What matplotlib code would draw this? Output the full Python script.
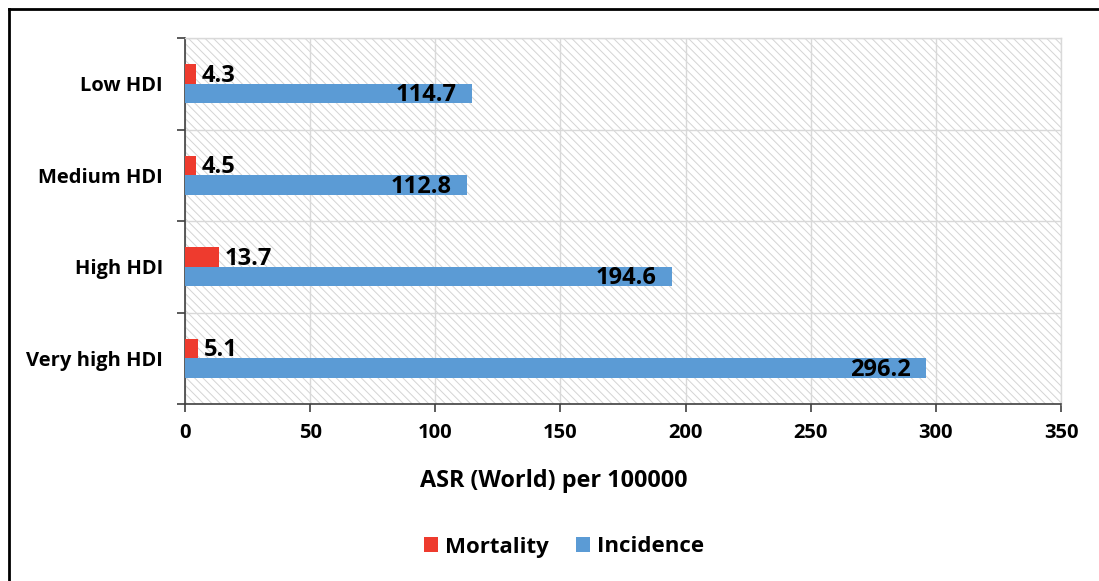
import matplotlib
matplotlib.use("Agg")
import matplotlib.pyplot as plt
from matplotlib.patches import Rectangle, Patch
from matplotlib.lines import Line2D
import numpy as np

categories = ["Low HDI", "Medium HDI", "High HDI", "Very high HDI"]
mortality = [4.3, 4.5, 13.7, 5.1]
incidence = [114.7, 112.8, 194.6, 296.2]
xticks = [0, 50, 100, 150, 200, 250, 300, 350]

RED = "#EE3B2E"
BLUE = "#5B9BD5"
GRID = "#D9D9D9"

plt.rcParams['font.family'] = ['Open Sans', 'DejaVu Sans']
plt.rcParams['font.weight'] = 'bold'
plt.rcParams['hatch.linewidth'] = 0.7
plt.rcParams['hatch.color'] = '#D4D4D4'

W, H = 1099, 581
fig = plt.figure(figsize=(W / 100, H / 100), dpi=100)
ax = fig.add_axes([185 / W, 1 - 404 / H, (1061 - 185) / W, (404 - 38) / H])

# hatched background
bg = Rectangle((0, 0), 1, 1, transform=ax.transAxes, facecolor='white',
               edgecolor='#D4D4D4', hatch='\\\\\\\\', linewidth=0, zorder=0)
ax.add_patch(bg)

n = len(categories)
y = np.arange(n)  # 0 = top after inversion
bh = 0.215
ax.barh(y - bh / 2, mortality, height=bh, color=RED, zorder=3)
ax.barh(y + bh / 2, incidence, height=bh, color=BLUE, zorder=3)

fs_tick = 14.5
fs_val = 17
for yi, v in zip(y, mortality):
    ax.annotate(f"{v}", (v, yi - bh / 2 + 0.02), xytext=(4, 0), textcoords='offset points',
                ha='left', va='center', fontsize=fs_val, fontweight='bold', zorder=4)
for yi, v in zip(y, incidence):
    ax.annotate(f"{v}", (v, yi + bh / 2 + 0.02), xytext=(-11, 0), textcoords='offset points',
                ha='right', va='center', fontsize=fs_val, fontweight='bold', zorder=4)

ax.set_xlim(0, 350)
ax.set_ylim(n - 0.5, -0.5)
ax.set_xticks(xticks)
ax.set_xticklabels([str(t) for t in xticks], fontsize=fs_tick, fontweight='bold')
ax.set_yticks(np.arange(n + 1) - 0.5)
ax.set_yticklabels([])
ax.set_yticks(y, minor=True)
ax.set_yticklabels(categories, minor=True, fontsize=fs_tick, fontweight='bold')
ax.tick_params(axis='y', which='minor', length=0, pad=16)
ax.tick_params(axis='y', which='major', length=6, width=1.2, color='#404040', direction='out')
ax.tick_params(axis='x', which='major', length=6, width=1.2, color='#404040', direction='out', pad=8)

ax.grid(True, axis='x', color=GRID, linewidth=1, zorder=1)
ax.grid(True, axis='y', which='major', color=GRID, linewidth=1, zorder=1)
ax.set_axisbelow(True)

for s in ['top', 'right']:
    ax.spines[s].set_color(GRID)
    ax.spines[s].set_linewidth(1)
for s in ['left', 'bottom']:
    ax.spines[s].set_color('#404040')
    ax.spines[s].set_linewidth(1.2)

fig.text(554 / W, 1 - 481 / H, "ASR (World) per 100000", ha='center', va='center',
         fontsize=16.8, fontweight='bold')

handles = [Patch(facecolor=RED, edgecolor='none', label='Mortality'),
           Patch(facecolor=BLUE, edgecolor='none', label='Incidence')]
fig.legend(handles=handles, loc='center', bbox_to_anchor=(564 / W, 1 - 547 / H), ncol=2,
           frameon=False, handlelength=0.63, handleheight=0.63,
           handletextpad=0.32, columnspacing=1.2, prop={'weight': 'bold', 'size': 16})

# outer frame (top and left edges)
fig.add_artist(Line2D([8.5 / W, 1], [1 - 8.5 / H, 1 - 8.5 / H], transform=fig.transFigure,
                      color='black', linewidth=2))
fig.add_artist(Line2D([8.5 / W, 8.5 / W], [0, 1 - 8.5 / H], transform=fig.transFigure,
                      color='black', linewidth=2))

fig.savefig("out.png", dpi=100)
